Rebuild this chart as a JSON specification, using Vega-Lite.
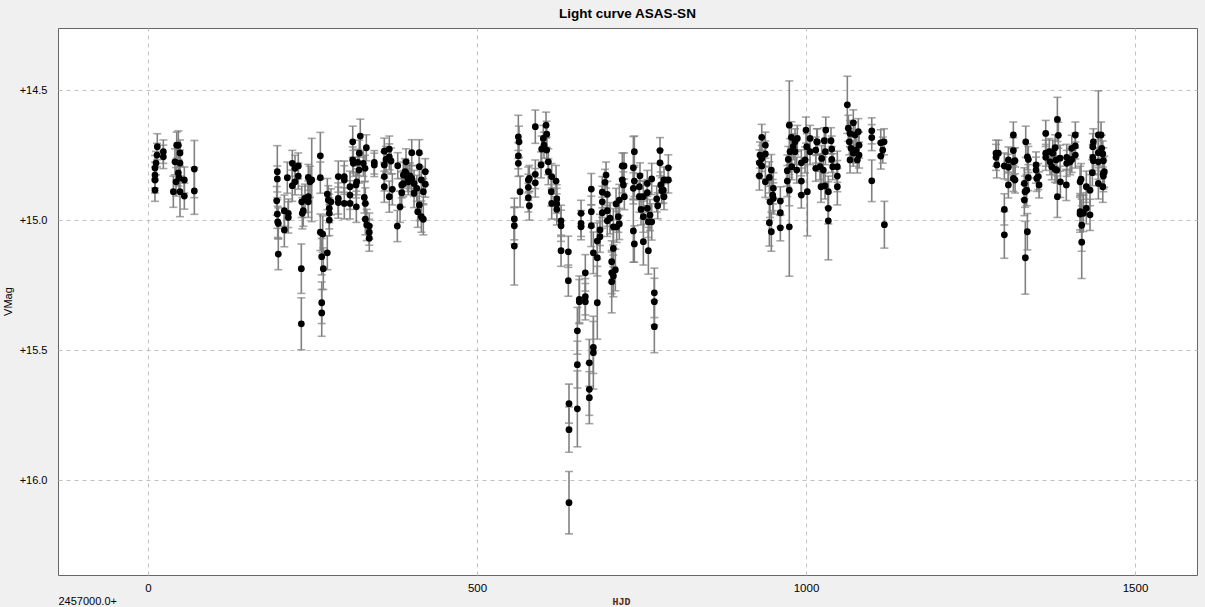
{
"$schema":"https://vega.github.io/schema/vega-lite/v6.json",
"autosize":"none",
"width":1139,"height":547,
"padding":{"left":58,"top":28,"right":8,"bottom":32},
"background":"#f0f0f0",
"title":{"text":"Light curve ASAS-SN","font":"Liberation Sans","fontSize":13.5,"fontWeight":"bold","color":"#000000","anchor":"middle","frame":"group","offset":8},
"config":{"view":{"stroke":"#666666","strokeWidth":1,"fill":"#ffffff"}},
"data":{"values":[
{"t":10.6,"m":14.885,"e":0.043},{"t":10.6,"m":14.846,"e":0.05},{"t":10.6,"m":14.827,"e":0.05},{"t":10.6,"m":14.8,"e":0.048},{"t":12.2,"m":14.781,"e":0.045},{"t":13.7,"m":14.75,"e":0.045},{"t":14.1,"m":14.718,"e":0.05},{"t":23.3,"m":14.737,"e":0.045},{"t":23.3,"m":14.757,"e":0.045},{"t":38.5,"m":14.891,"e":0.06},{"t":41.0,"m":14.776,"e":0.05},{"t":43.6,"m":14.712,"e":0.05},{"t":46.1,"m":14.712,"e":0.055},{"t":42.6,"m":14.853,"e":0.055},{"t":48.6,"m":14.742,"e":0.05},{"t":48.6,"m":14.781,"e":0.05},{"t":46.1,"m":14.819,"e":0.05},{"t":47.1,"m":14.838,"e":0.05},{"t":48.6,"m":14.891,"e":0.096},{"t":55.2,"m":14.846,"e":0.05},{"t":55.2,"m":14.908,"e":0.05},{"t":70.4,"m":14.804,"e":0.11},{"t":70.4,"m":14.888,"e":0.09},
{"t":196.5,"m":14.814,"e":0.1},{"t":196.5,"m":14.842,"e":0.05},{"t":195.6,"m":14.926,"e":0.055},{"t":196.5,"m":14.977,"e":0.055},{"t":197.1,"m":15.007,"e":0.06},{"t":198.0,"m":15.013,"e":0.06},{"t":198.0,"m":15.131,"e":0.06},{"t":207.2,"m":14.964,"e":0.06},{"t":207.2,"m":15.038,"e":0.065},{"t":211.7,"m":14.837,"e":0.06},{"t":213.2,"m":14.974,"e":0.055},{"t":213.2,"m":14.99,"e":0.06},{"t":219.3,"m":14.782,"e":0.05},{"t":219.3,"m":14.868,"e":0.06},{"t":223.4,"m":14.801,"e":0.05},{"t":223.4,"m":14.853,"e":0.05},{"t":228.4,"m":14.792,"e":0.05},{"t":228.4,"m":14.831,"e":0.05},{"t":233.6,"m":14.93,"e":0.06},{"t":234.5,"m":14.974,"e":0.06},{"t":236.0,"m":14.964,"e":0.06},{"t":238.6,"m":14.917,"e":0.055},{"t":243.6,"m":14.91,"e":0.06},{"t":243.6,"m":14.93,"e":0.06},{"t":243.6,"m":14.836,"e":0.05},{"t":246.2,"m":14.853,"e":0.06},{"t":248.8,"m":14.846,"e":0.16},{"t":233.0,"m":15.187,"e":0.095},{"t":233.0,"m":15.399,"e":0.1},{"t":261.9,"m":14.753,"e":0.09},{"t":261.9,"m":14.837,"e":0.06},{"t":261.9,"m":15.047,"e":0.07},{"t":265.5,"m":15.054,"e":0.07},{"t":264.0,"m":15.141,"e":0.07},{"t":266.4,"m":15.187,"e":0.08},{"t":264.0,"m":15.318,"e":0.08},{"t":264.0,"m":15.357,"e":0.09},{"t":272.5,"m":15.126,"e":0.065},{"t":272.5,"m":14.9,"e":0.06},{"t":274.0,"m":14.923,"e":0.055},{"t":275.5,"m":14.955,"e":0.055},{"t":275.5,"m":14.974,"e":0.06},{"t":278.1,"m":14.93,"e":0.05},{"t":275.5,"m":15.0,"e":0.06},{"t":289.2,"m":14.833,"e":0.06},{"t":289.2,"m":14.917,"e":0.06},{"t":289.2,"m":14.933,"e":0.06},{"t":298.3,"m":14.833,"e":0.06},{"t":298.3,"m":14.846,"e":0.055},{"t":298.3,"m":14.936,"e":0.06},{"t":307.0,"m":14.872,"e":0.06},{"t":307.0,"m":14.904,"e":0.055},{"t":307.0,"m":14.936,"e":0.06},{"t":311.1,"m":14.699,"e":0.06},{"t":311.1,"m":14.769,"e":0.05},{"t":312.0,"m":14.782,"e":0.05},{"t":316.1,"m":14.865,"e":0.05},{"t":317.2,"m":14.853,"e":0.05},{"t":316.6,"m":14.949,"e":0.06},{"t":318.7,"m":14.778,"e":0.05},{"t":320.7,"m":14.808,"e":0.05},{"t":321.1,"m":14.743,"e":0.05},{"t":322.6,"m":14.677,"e":0.065},{"t":327.2,"m":14.782,"e":0.05},{"t":329.8,"m":14.801,"e":0.05},{"t":331.8,"m":14.722,"e":0.05},{"t":328.7,"m":14.913,"e":0.06},{"t":330.3,"m":14.936,"e":0.06},{"t":330.3,"m":14.997,"e":0.06},{"t":332.4,"m":15.019,"e":0.06},{"t":336.3,"m":15.023,"e":0.05},{"t":336.3,"m":15.047,"e":0.05},{"t":336.3,"m":15.07,"e":0.05},{"t":343.9,"m":14.778,"e":0.045},{"t":343.9,"m":14.788,"e":0.045},{"t":359.1,"m":14.735,"e":0.05},{"t":359.1,"m":14.788,"e":0.05},{"t":359.1,"m":14.833,"e":0.055},{"t":359.1,"m":14.872,"e":0.06},{"t":361.7,"m":14.767,"e":0.05},{"t":366.7,"m":14.727,"e":0.05},{"t":366.7,"m":14.757,"e":0.05},{"t":366.7,"m":14.91,"e":0.06},{"t":369.3,"m":14.773,"e":0.05},{"t":371.3,"m":14.882,"e":0.06},{"t":379.5,"m":14.791,"e":0.05},{"t":378.9,"m":15.023,"e":0.06},{"t":383.0,"m":14.949,"e":0.06},{"t":385.6,"m":14.895,"e":0.055},{"t":385.6,"m":14.865,"e":0.05},{"t":388.0,"m":14.827,"e":0.05},{"t":390.6,"m":14.814,"e":0.05},{"t":392.1,"m":14.776,"e":0.05},{"t":395.6,"m":14.853,"e":0.05},{"t":400.8,"m":14.741,"e":0.05},{"t":400.8,"m":14.84,"e":0.05},{"t":404.3,"m":14.859,"e":0.05},{"t":404.3,"m":14.897,"e":0.055},{"t":408.4,"m":14.878,"e":0.05},{"t":409.9,"m":14.968,"e":0.06},{"t":412.3,"m":14.741,"e":0.05},{"t":412.3,"m":14.795,"e":0.05},{"t":412.3,"m":14.942,"e":0.06},{"t":415.4,"m":14.846,"e":0.05},{"t":415.4,"m":14.987,"e":0.06},{"t":418.4,"m":14.997,"e":0.06},{"t":418.4,"m":14.891,"e":0.05},{"t":421.4,"m":14.814,"e":0.05},{"t":421.4,"m":14.862,"e":0.05},{"t":395.0,"m":14.84,"e":0.05},{"t":398.0,"m":14.83,"e":0.05},{"t":392.0,"m":14.82,"e":0.05},{"t":388.0,"m":14.86,"e":0.05},
{"t":556.7,"m":14.996,"e":0.08},{"t":556.7,"m":15.022,"e":0.07},{"t":556.7,"m":15.1,"e":0.15},{"t":562.8,"m":14.68,"e":0.083},{"t":563.8,"m":14.699,"e":0.06},{"t":562.8,"m":14.753,"e":0.05},{"t":562.8,"m":14.782,"e":0.05},{"t":565.4,"m":14.891,"e":0.06},{"t":578.0,"m":14.846,"e":0.05},{"t":578.0,"m":14.874,"e":0.05},{"t":578.0,"m":14.914,"e":0.055},{"t":579.5,"m":14.945,"e":0.055},{"t":579.5,"m":14.84,"e":0.05},{"t":588.6,"m":14.641,"e":0.064},{"t":588.6,"m":14.824,"e":0.055},{"t":588.6,"m":14.857,"e":0.055},{"t":597.3,"m":14.788,"e":0.05},{"t":598.3,"m":14.727,"e":0.05},{"t":600.8,"m":14.686,"e":0.05},{"t":601.8,"m":14.712,"e":0.05},{"t":604.9,"m":14.635,"e":0.05},{"t":605.9,"m":14.67,"e":0.05},{"t":605.9,"m":14.731,"e":0.05},{"t":608.4,"m":14.776,"e":0.05},{"t":608.4,"m":14.814,"e":0.05},{"t":613.5,"m":14.833,"e":0.05},{"t":612.9,"m":14.891,"e":0.055},{"t":613.5,"m":14.936,"e":0.06},{"t":620.1,"m":14.85,"e":0.06},{"t":621.2,"m":14.919,"e":0.055},{"t":621.2,"m":14.938,"e":0.06},{"t":621.2,"m":14.959,"e":0.06},{"t":627.7,"m":15.003,"e":0.06},{"t":627.7,"m":15.022,"e":0.06},{"t":627.7,"m":15.118,"e":0.06},{"t":638.8,"m":15.122,"e":0.06},{"t":638.8,"m":15.233,"e":0.06},{"t":639.8,"m":15.706,"e":0.075},{"t":639.8,"m":15.806,"e":0.087},{"t":639.8,"m":16.087,"e":0.12},{"t":652.5,"m":15.426,"e":0.09},{"t":652.5,"m":15.556,"e":0.09},{"t":652.5,"m":15.726,"e":0.146},{"t":655.5,"m":15.305,"e":0.09},{"t":655.5,"m":15.314,"e":0.085},{"t":658.1,"m":14.974,"e":0.05},{"t":658.1,"m":15.013,"e":0.05},{"t":658.1,"m":15.026,"e":0.05},{"t":664.6,"m":15.203,"e":0.07},{"t":664.6,"m":15.295,"e":0.07},{"t":664.6,"m":15.314,"e":0.07},{"t":670.7,"m":15.549,"e":0.09},{"t":670.7,"m":15.651,"e":0.1},{"t":670.7,"m":15.683,"e":0.1},{"t":673.7,"m":14.881,"e":0.06},{"t":673.7,"m":14.968,"e":0.06},{"t":673.7,"m":15.022,"e":0.08},{"t":676.8,"m":15.126,"e":0.08},{"t":676.8,"m":15.49,"e":0.1},{"t":676.8,"m":15.51,"e":0.14},{"t":682.8,"m":15.145,"e":0.07},{"t":682.8,"m":15.318,"e":0.14},{"t":682.8,"m":15.081,"e":0.07},{"t":686.9,"m":15.038,"e":0.06},{"t":686.9,"m":15.064,"e":0.06},{"t":690.4,"m":14.893,"e":0.06},{"t":690.4,"m":14.93,"e":0.06},{"t":690.4,"m":14.972,"e":0.06},{"t":694.5,"m":14.855,"e":0.05},{"t":696.1,"m":14.827,"e":0.05},{"t":698.0,"m":14.901,"e":0.05},{"t":698.0,"m":14.964,"e":0.06},{"t":698.0,"m":15.003,"e":0.06},{"t":702.1,"m":14.993,"e":0.06},{"t":704.7,"m":15.16,"e":0.08},{"t":704.7,"m":15.203,"e":0.08},{"t":704.7,"m":15.237,"e":0.12},{"t":707.2,"m":15.109,"e":0.07},{"t":707.2,"m":15.215,"e":0.08},{"t":710.2,"m":15.192,"e":0.08},{"t":707.2,"m":15.026,"e":0.07},{"t":711.3,"m":14.938,"e":0.06},{"t":712.3,"m":15.026,"e":0.06},{"t":714.8,"m":14.987,"e":0.06},{"t":716.3,"m":14.923,"e":0.06},{"t":716.3,"m":15.015,"e":0.06},{"t":720.8,"m":14.792,"e":0.05},{"t":720.8,"m":14.846,"e":0.05},{"t":722.4,"m":14.865,"e":0.05},{"t":723.9,"m":14.91,"e":0.05},{"t":723.4,"m":14.792,"e":0.05},{"t":737.6,"m":14.799,"e":0.12},{"t":737.6,"m":14.878,"e":0.06},{"t":737.6,"m":15.042,"e":0.12},{"t":739.1,"m":15.092,"e":0.07},{"t":739.1,"m":14.737,"e":0.06},{"t":739.1,"m":14.85,"e":0.06},{"t":746.7,"m":14.872,"e":0.05},{"t":746.7,"m":14.91,"e":0.06},{"t":747.7,"m":14.83,"e":0.05},{"t":749.3,"m":14.959,"e":0.06},{"t":752.8,"m":14.91,"e":0.06},{"t":752.8,"m":14.987,"e":0.06},{"t":752.8,"m":15.083,"e":0.09},{"t":758.8,"m":14.859,"e":0.05},{"t":758.8,"m":14.895,"e":0.05},{"t":758.8,"m":14.955,"e":0.06},{"t":760.4,"m":15.118,"e":0.09},{"t":760.4,"m":15.007,"e":0.06},{"t":762.9,"m":14.981,"e":0.06},{"t":765.5,"m":15.007,"e":0.07},{"t":765.5,"m":14.842,"e":0.06},{"t":769.5,"m":15.28,"e":0.095},{"t":769.5,"m":15.314,"e":0.09},{"t":769.5,"m":15.41,"e":0.1},{"t":773.1,"m":14.919,"e":0.05},{"t":774.6,"m":14.945,"e":0.05},{"t":778.1,"m":14.733,"e":0.05},{"t":778.1,"m":14.78,"e":0.05},{"t":779.2,"m":14.865,"e":0.05},{"t":780.7,"m":14.887,"e":0.05},{"t":783.2,"m":14.885,"e":0.05},{"t":784.2,"m":14.846,"e":0.05},{"t":784.2,"m":14.91,"e":0.05},{"t":790.8,"m":14.799,"e":0.05},{"t":790.8,"m":14.846,"e":0.05},
{"t":932.7,"m":14.682,"e":0.05},{"t":938.2,"m":14.712,"e":0.05},{"t":930.1,"m":14.75,"e":0.05},{"t":932.7,"m":14.763,"e":0.05},{"t":929.1,"m":14.78,"e":0.05},{"t":932.7,"m":14.792,"e":0.05},{"t":929.1,"m":14.83,"e":0.055},{"t":938.2,"m":14.746,"e":0.05},{"t":938.2,"m":14.853,"e":0.06},{"t":944.3,"m":14.836,"e":0.06},{"t":947.3,"m":14.808,"e":0.06},{"t":950.3,"m":14.878,"e":0.06},{"t":949.4,"m":14.904,"e":0.06},{"t":950.3,"m":14.917,"e":0.06},{"t":945.3,"m":14.93,"e":0.06},{"t":944.3,"m":15.01,"e":0.09},{"t":947.3,"m":15.045,"e":0.075},{"t":961.0,"m":14.927,"e":0.055},{"t":961.0,"m":14.972,"e":0.055},{"t":961.0,"m":15.03,"e":0.05},{"t":974.6,"m":14.635,"e":0.17},{"t":974.6,"m":15.026,"e":0.19},{"t":974.6,"m":14.885,"e":0.06},{"t":971.6,"m":14.85,"e":0.06},{"t":971.6,"m":14.81,"e":0.06},{"t":977.7,"m":14.682,"e":0.06},{"t":975.7,"m":14.737,"e":0.05},{"t":973.1,"m":14.767,"e":0.05},{"t":980.7,"m":14.718,"e":0.05},{"t":983.3,"m":14.737,"e":0.05},{"t":978.3,"m":14.795,"e":0.05},{"t":985.9,"m":14.808,"e":0.05},{"t":983.3,"m":14.699,"e":0.05},{"t":986.8,"m":14.686,"e":0.05},{"t":992.9,"m":14.78,"e":0.05},{"t":992.9,"m":14.85,"e":0.05},{"t":992.9,"m":14.904,"e":0.05},{"t":1000.0,"m":14.654,"e":0.05},{"t":1002.0,"m":14.891,"e":0.17},{"t":998.5,"m":14.769,"e":0.05},{"t":1001.1,"m":14.718,"e":0.05},{"t":1006.1,"m":14.686,"e":0.05},{"t":1006.1,"m":14.737,"e":0.05},{"t":1014.8,"m":14.731,"e":0.05},{"t":1014.8,"m":14.801,"e":0.05},{"t":1016.3,"m":14.699,"e":0.05},{"t":1017.2,"m":14.699,"e":0.05},{"t":1023.9,"m":14.763,"e":0.05},{"t":1021.3,"m":14.795,"e":0.05},{"t":1022.8,"m":14.872,"e":0.06},{"t":1026.3,"m":14.808,"e":0.05},{"t":1027.8,"m":14.695,"e":0.05},{"t":1030.0,"m":14.654,"e":0.05},{"t":1029.4,"m":14.737,"e":0.05},{"t":1028.9,"m":14.869,"e":0.05},{"t":1033.9,"m":14.891,"e":0.06},{"t":1033.9,"m":14.955,"e":0.06},{"t":1033.9,"m":15.003,"e":0.15},{"t":1038.0,"m":14.695,"e":0.05},{"t":1039.1,"m":14.727,"e":0.05},{"t":1039.1,"m":14.767,"e":0.05},{"t":1040.6,"m":14.795,"e":0.05},{"t":1047.6,"m":14.795,"e":0.06},{"t":1047.6,"m":14.831,"e":0.06},{"t":1047.6,"m":14.872,"e":0.07},{"t":1062.8,"m":14.557,"e":0.11},{"t":1064.3,"m":14.647,"e":0.05},{"t":1066.9,"m":14.667,"e":0.05},{"t":1065.8,"m":14.699,"e":0.05},{"t":1068.4,"m":14.724,"e":0.05},{"t":1066.9,"m":14.769,"e":0.05},{"t":1071.9,"m":14.626,"e":0.05},{"t":1074.5,"m":14.673,"e":0.05},{"t":1076.0,"m":14.731,"e":0.05},{"t":1079.5,"m":14.66,"e":0.05},{"t":1078.0,"m":14.769,"e":0.05},{"t":1080.6,"m":14.712,"e":0.05},{"t":1080.6,"m":14.75,"e":0.05},{"t":1071.9,"m":14.743,"e":0.05},{"t":1099.9,"m":14.657,"e":0.05},{"t":1099.9,"m":14.683,"e":0.05},{"t":1099.9,"m":14.849,"e":0.08},{"t":1113.6,"m":14.703,"e":0.05},{"t":1116.6,"m":14.731,"e":0.05},{"t":1113.6,"m":14.754,"e":0.05},{"t":1118.6,"m":14.699,"e":0.05},{"t":1119.1,"m":15.018,"e":0.09},
{"t":1288.8,"m":14.743,"e":0.05},{"t":1288.8,"m":14.759,"e":0.05},{"t":1289.9,"m":14.788,"e":0.05},{"t":1292.3,"m":14.743,"e":0.05},{"t":1301.4,"m":14.792,"e":0.05},{"t":1301.4,"m":14.959,"e":0.06},{"t":1301.4,"m":15.057,"e":0.09},{"t":1307.5,"m":14.769,"e":0.05},{"t":1307.5,"m":14.797,"e":0.05},{"t":1307.5,"m":14.865,"e":0.05},{"t":1315.1,"m":14.673,"e":0.05},{"t":1315.1,"m":14.733,"e":0.05},{"t":1315.1,"m":14.776,"e":0.05},{"t":1315.1,"m":14.84,"e":0.05},{"t":1317.7,"m":14.772,"e":0.05},{"t":1317.7,"m":14.846,"e":0.05},{"t":1333.9,"m":14.699,"e":0.06},{"t":1331.8,"m":14.859,"e":0.06},{"t":1332.9,"m":14.891,"e":0.06},{"t":1331.8,"m":14.923,"e":0.06},{"t":1336.4,"m":14.757,"e":0.05},{"t":1337.9,"m":14.767,"e":0.05},{"t":1336.4,"m":15.045,"e":0.07},{"t":1333.3,"m":15.145,"e":0.14},{"t":1337.9,"m":14.837,"e":0.05},{"t":1335.4,"m":14.885,"e":0.06},{"t":1349.6,"m":14.788,"e":0.05},{"t":1349.6,"m":14.808,"e":0.05},{"t":1350.7,"m":14.84,"e":0.05},{"t":1353.1,"m":14.833,"e":0.05},{"t":1354.2,"m":14.865,"e":0.05},{"t":1364.3,"m":14.667,"e":0.05},{"t":1364.3,"m":14.743,"e":0.05},{"t":1364.3,"m":14.759,"e":0.05},{"t":1369.8,"m":14.737,"e":0.05},{"t":1370.8,"m":14.776,"e":0.05},{"t":1373.4,"m":14.795,"e":0.05},{"t":1375.0,"m":14.743,"e":0.05},{"t":1378.5,"m":14.722,"e":0.05},{"t":1380.0,"m":14.769,"e":0.05},{"t":1382.0,"m":14.613,"e":0.085},{"t":1383.5,"m":14.674,"e":0.05},{"t":1382.0,"m":14.91,"e":0.08},{"t":1378.5,"m":14.805,"e":0.05},{"t":1381.1,"m":14.808,"e":0.05},{"t":1386.1,"m":14.762,"e":0.05},{"t":1386.6,"m":14.853,"e":0.06},{"t":1396.2,"m":14.759,"e":0.05},{"t":1396.2,"m":14.782,"e":0.05},{"t":1395.6,"m":14.865,"e":0.06},{"t":1401.3,"m":14.776,"e":0.05},{"t":1403.9,"m":14.724,"e":0.05},{"t":1403.9,"m":14.767,"e":0.05},{"t":1409.3,"m":14.673,"e":0.05},{"t":1409.3,"m":14.715,"e":0.05},{"t":1409.3,"m":14.75,"e":0.05},{"t":1416.5,"m":14.853,"e":0.06},{"t":1418.0,"m":14.843,"e":0.06},{"t":1416.5,"m":14.968,"e":0.07},{"t":1416.5,"m":14.977,"e":0.07},{"t":1419.0,"m":15.02,"e":0.1},{"t":1419.0,"m":15.085,"e":0.14},{"t":1421.5,"m":14.974,"e":0.07},{"t":1426.0,"m":14.872,"e":0.06},{"t":1426.0,"m":14.955,"e":0.06},{"t":1431.6,"m":14.885,"e":0.06},{"t":1431.6,"m":14.98,"e":0.06},{"t":1435.2,"m":14.818,"e":0.05},{"t":1435.8,"m":14.718,"e":0.05},{"t":1436.7,"m":14.699,"e":0.05},{"t":1435.8,"m":14.759,"e":0.05},{"t":1436.7,"m":14.772,"e":0.05},{"t":1444.3,"m":14.673,"e":0.17},{"t":1444.3,"m":14.741,"e":0.05},{"t":1444.3,"m":14.776,"e":0.05},{"t":1444.3,"m":14.859,"e":0.06},{"t":1448.4,"m":14.673,"e":0.05},{"t":1449.4,"m":14.724,"e":0.05},{"t":1451.0,"m":14.746,"e":0.05},{"t":1451.9,"m":14.772,"e":0.05},{"t":1451.9,"m":14.82,"e":0.06},{"t":1451.0,"m":14.872,"e":0.06},{"t":1453.4,"m":14.814,"e":0.06},{"t":1451.9,"m":14.831,"e":0.06}
]},
"layer":[
{"mark":{"type":"errorbar","ticks":{"size":8,"color":"#808080"},"color":"#808080","thickness":1.6,"clip":true},
 "encoding":{
  "x":{"field":"t","type":"quantitative","scale":{"domain":[-136.8,1594.2],"nice":false,"zero":false},
   "axis":{"values":[0,500,1000,1500],"format":"d","title":"HJD","grid":true,"gridColor":"#c0c0c0","gridDash":[4,4],"gridWidth":1,"ticks":false,"domain":false,"labelPadding":7,"labelFont":"Liberation Sans","labelFontSize":11.5,"labelColor":"#000000","titleFont":"Liberation Mono","titleFontSize":10,"titleFontWeight":"bold","titleColor":"#5a2a10","titleX":563,"titleY":29,"titleAlign":"center","titleBaseline":"alphabetic"}},
  "y":{"field":"m","type":"quantitative","scale":{"domain":[14.2615,16.365],"reverse":true,"nice":false,"zero":false},
   "axis":{"values":[14.5,15,15.5,16],"format":"+.1f","title":"VMag","grid":true,"gridColor":"#c0c0c0","gridDash":[4,4],"gridWidth":1,"ticks":false,"domain":false,"labelPadding":11,"labelFont":"Liberation Sans","labelFontSize":11,"labelColor":"#000000","titleFont":"Liberation Sans","titleFontSize":11,"titleFontWeight":"normal","titleColor":"#000000","titleX":-45,"titleY":273,"titleAngle":-90,"titleAlign":"center","titleBaseline":"bottom"}},
  "yError":{"field":"e"}
 }},
{"mark":{"type":"circle","color":"#000000","opacity":1,"size":46,"clip":true},
 "encoding":{
  "x":{"field":"t","type":"quantitative","scale":{"domain":[-136.8,1594.2],"nice":false,"zero":false},
   "axis":{"orient":"bottom","labels":false,"ticks":false,"domain":false,"grid":false,"title":"2457000.0+","titleFont":"Liberation Sans","titleFontSize":11,"titleFontWeight":"normal","titleColor":"#000000","titleX":0,"titleY":29,"titleAlign":"left","titleBaseline":"alphabetic"}},
  "y":{"field":"m","type":"quantitative","scale":{"domain":[14.2615,16.365],"reverse":true,"nice":false,"zero":false},
   "axis":{"values":[14.5,15,15.5,16],"format":"+.1f","title":"VMag","grid":true,"gridColor":"#c0c0c0","gridDash":[4,4],"gridWidth":1,"ticks":false,"domain":false,"labelPadding":11,"labelFont":"Liberation Sans","labelFontSize":11,"labelColor":"#000000","titleFont":"Liberation Sans","titleFontSize":11,"titleFontWeight":"normal","titleColor":"#000000","titleX":-45,"titleY":273,"titleAngle":-90,"titleAlign":"center","titleBaseline":"bottom"}}
 }}
],
"resolve":{"axis":{"x":"independent"}}
}
